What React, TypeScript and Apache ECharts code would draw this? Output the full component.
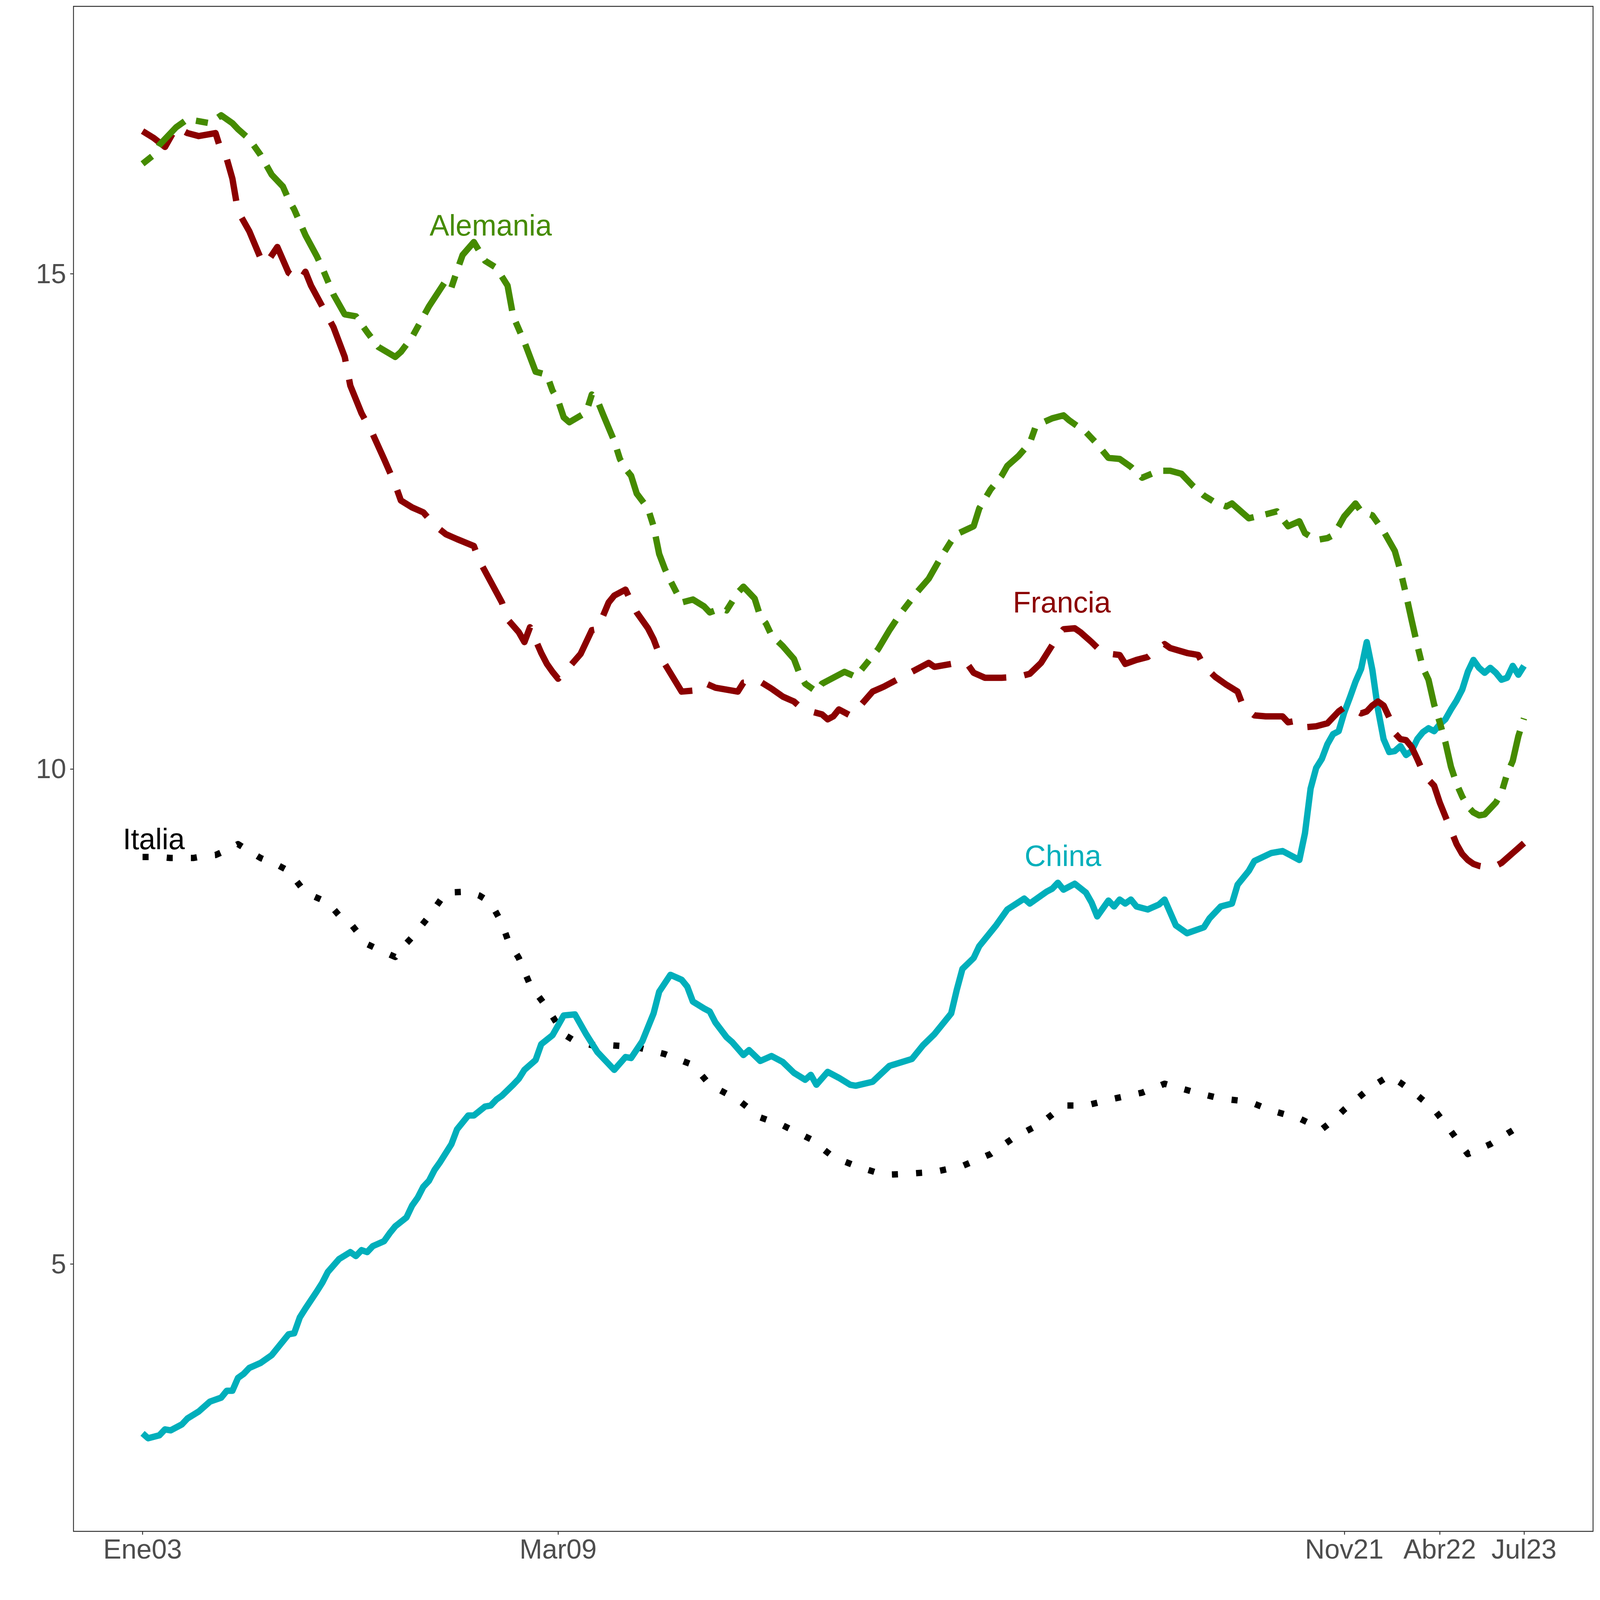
import React, { useEffect, useRef, useState } from "react";
import * as echarts from "echarts";

// x = month index from Jan 2003 (0) ; y = value
const xTickValues = [0, 74, 214, 231, 246];
const xTickLabels = ["Ene03", "Mar09", "Nov21", "Abr22", "Jul23"];
const yTickValues = [5, 10, 15];

const alemania = [
  [0,16.11],[2,16.20],[3,16.30],[6,16.48],[8,16.56],[10,16.54],[12,16.52],[14,16.60],[16,16.52],[17,16.46],[19,16.36],[21,16.20],[23,16.00],[25,15.88],[26,15.75],[27,15.65],[28,15.52],[29,15.39],[31,15.18],[32,15.06],[34,14.79],[36,14.59],[38,14.57],[40,14.41],[42,14.26],[45,14.16],[46,14.21],[48,14.36],[51,14.67],[54,14.93],[55,14.86],[56,15.03],[57,15.19],[59,15.32],[61,15.13],[63,15.06],[65,14.88],[66,14.57],[68,14.31],[70,14.01],[72,13.98],[73,13.82],[74,13.72],[75,13.55],[76,13.50],[79,13.60],[80,13.78],[81,13.72],[82,13.58],[84,13.31],[85,13.13],[86,13.03],[87,12.96],[88,12.78],[90,12.63],[91,12.45],[92,12.17],[93,12.02],[94,11.90],[95,11.79],[96,11.68],[98,11.71],[100,11.64],[101,11.58],[103,11.62],[104,11.60],[106,11.78],[107,11.84],[109,11.72],[110,11.54],[111,11.47],[112,11.35],[114,11.24],[116,11.11],[117,10.96],[118,10.86],[120,10.78],[121,10.86],[122,10.89],[125,10.98],[127,10.93],[129,11.07],[131,11.21],[133,11.40],[135,11.57],[138,11.79],[140,11.92],[142,12.12],[144,12.30],[145,12.37],[148,12.45],[149,12.63],[151,12.82],[153,12.96],[154,13.06],[156,13.16],[158,13.29],[159,13.45],[160,13.49],[162,13.54],[164,13.57],[165,13.52],[168,13.40],[170,13.28],[172,13.14],[174,13.13],[176,13.05],[178,12.94],[181,13.01],[183,13.01],[185,12.98],[187,12.86],[189,12.76],[191,12.69],[193,12.65],[194,12.68],[197,12.53],[200,12.57],[202,12.60],[204,12.45],[206,12.50],[207,12.38],[209,12.31],[211,12.33],[212,12.36],[213,12.45],[214,12.55],[216,12.68],[217,12.60],[219,12.56],[221,12.40],[223,12.20],[224,12.00],[225,11.76],[226,11.50],[227,11.25],[228,11.02],[229,10.90],[230,10.65],[231,10.47],[232,10.27],[233,10.02],[234,9.85],[235,9.72],[236,9.62],[237,9.56],[238,9.53],[239,9.54],[240,9.60],[241,9.66],[242,9.76],[243,9.95],[244,10.08],[245,10.33],[246,10.51]
];

const francia = [
  [0,16.44],[2,16.37],[4,16.28],[6,16.48],[8,16.42],[10,16.39],[13,16.42],[14,16.24],[15,16.16],[16,15.96],[17,15.63],[19,15.43],[21,15.16],[22,15.10],[24,15.27],[26,15.01],[28,14.93],[29,15.02],[30,14.88],[32,14.67],[34,14.46],[36,14.16],[37,13.87],[39,13.59],[41,13.38],[43,13.13],[45,12.87],[46,12.71],[48,12.64],[50,12.59],[52,12.46],[54,12.37],[56,12.32],[59,12.25],[60,12.10],[62,11.89],[64,11.68],[65,11.51],[67,11.38],[68,11.28],[69,11.43],[71,11.17],[72,11.06],[73,10.98],[74,10.91],[76,11.03],[78,11.16],[80,11.40],[81,11.41],[83,11.68],[84,11.75],[86,11.81],[87,11.69],[88,11.58],[90,11.42],[91,11.31],[92,11.16],[93,11.06],[96,10.78],[98,10.79],[100,10.87],[102,10.82],[106,10.78],[107,10.87],[110,10.88],[112,10.81],[114,10.73],[116,10.68],[117,10.63],[119,10.58],[121,10.55],[122,10.50],[123,10.53],[124,10.60],[126,10.54],[128,10.65],[130,10.78],[132,10.83],[134,10.89],[138,11.01],[140,11.07],[141,11.03],[144,11.06],[147,11.05],[148,10.97],[150,10.92],[153,10.92],[156,10.93],[158,10.96],[160,11.07],[163,11.34],[164,11.41],[166,11.42],[167,11.38],[169,11.28],[171,11.17],[174,11.15],[175,11.06],[177,11.10],[179,11.13],[181,11.22],[182,11.26],[183,11.22],[186,11.17],[188,11.15],[189,11.04],[191,10.93],[193,10.85],[195,10.78],[196,10.63],[198,10.54],[200,10.53],[203,10.53],[204,10.47],[206,10.49],[207,10.42],[209,10.43],[211,10.46],[213,10.58],[214,10.62],[215,10.62],[217,10.56],[218,10.58],[219,10.64],[220,10.68],[221,10.64],[222,10.52],[223,10.36],[224,10.30],[225,10.29],[226,10.22],[227,10.10],[228,9.97],[229,9.89],[230,9.83],[231,9.66],[232,9.52],[233,9.38],[234,9.24],[235,9.14],[236,9.08],[237,9.04],[238,9.02],[239,9.01],[240,9.01],[241,9.02],[242,9.05],[243,9.10],[244,9.15],[245,9.20],[246,9.25]
];

const italia = [
  [0,9.11],[3,9.11],[5,9.10],[7,9.10],[9,9.10],[11,9.12],[13,9.13],[15,9.18],[17,9.24],[19,9.17],[21,9.10],[24,9.03],[26,8.97],[29,8.75],[31,8.70],[33,8.65],[35,8.52],[37,8.44],[40,8.23],[43,8.15],[45,8.10],[46,8.18],[48,8.30],[51,8.51],[54,8.75],[58,8.76],[60,8.72],[62,8.65],[64,8.44],[65,8.28],[67,8.09],[69,7.82],[72,7.59],[75,7.32],[77,7.25],[80,7.21],[83,7.21],[88,7.19],[93,7.12],[98,7.01],[101,6.81],[106,6.66],[110,6.48],[114,6.40],[119,6.26],[123,6.08],[127,5.99],[132,5.90],[136,5.91],[141,5.93],[146,5.99],[151,6.11],[155,6.27],[160,6.42],[164,6.60],[168,6.60],[173,6.67],[178,6.73],[182,6.82],[187,6.74],[192,6.67],[197,6.64],[201,6.55],[206,6.47],[210,6.36],[212,6.45],[214,6.56],[218,6.75],[220,6.83],[222,6.90],[224,6.83],[226,6.75],[230,6.56],[233,6.34],[236,6.11],[240,6.21],[244,6.35],[246,6.41]
];

const china = [
  [0,3.29],[1,3.24],[3,3.27],[4,3.33],[5,3.32],[7,3.38],[8,3.44],[10,3.51],[12,3.61],[14,3.65],[15,3.72],[16,3.72],[17,3.85],[18,3.89],[19,3.95],[21,4.00],[23,4.08],[24,4.15],[26,4.29],[27,4.30],[28,4.46],[29,4.55],[31,4.72],[32,4.81],[33,4.92],[35,5.05],[37,5.12],[38,5.08],[39,5.14],[40,5.12],[41,5.18],[43,5.23],[44,5.31],[45,5.38],[47,5.47],[48,5.59],[49,5.67],[50,5.78],[51,5.84],[52,5.95],[53,6.03],[55,6.21],[56,6.36],[58,6.50],[59,6.50],[61,6.59],[62,6.60],[63,6.66],[64,6.70],[66,6.81],[67,6.87],[68,6.96],[70,7.06],[71,7.22],[73,7.31],[75,7.51],[77,7.52],[79,7.32],[81,7.14],[83,7.02],[84,6.96],[86,7.09],[87,7.08],[89,7.25],[91,7.53],[92,7.75],[94,7.92],[96,7.87],[97,7.80],[98,7.65],[100,7.58],[101,7.55],[102,7.44],[104,7.29],[105,7.24],[107,7.11],[108,7.16],[110,7.05],[112,7.10],[114,7.04],[116,6.93],[118,6.86],[119,6.91],[120,6.81],[122,6.94],[124,6.88],[126,6.81],[127,6.80],[130,6.84],[133,7.00],[137,7.07],[139,7.21],[141,7.32],[144,7.53],[145,7.77],[146,7.98],[148,8.09],[149,8.21],[152,8.42],[154,8.58],[157,8.69],[158,8.64],[161,8.76],[162,8.79],[163,8.85],[164,8.78],[166,8.84],[168,8.75],[169,8.65],[170,8.51],[172,8.67],[173,8.61],[174,8.68],[175,8.64],[176,8.68],[177,8.61],[179,8.58],[181,8.63],[182,8.68],[184,8.42],[186,8.34],[189,8.40],[190,8.49],[192,8.61],[194,8.64],[195,8.83],[197,8.97],[198,9.07],[201,9.15],[203,9.17],[206,9.08],[207,9.35],[208,9.80],[209,10.01],[210,10.10],[211,10.25],[212,10.35],[213,10.38],[214,10.57],[215,10.72],[216,10.88],[217,11.01],[218,11.28],[219,11.00],[220,10.60],[221,10.30],[222,10.17],[223,10.18],[224,10.23],[225,10.14],[226,10.18],[227,10.30],[228,10.37],[229,10.41],[230,10.38],[231,10.45],[232,10.50],[233,10.60],[234,10.69],[235,10.80],[236,10.98],[237,11.10],[238,11.02],[239,10.97],[240,11.02],[241,10.97],[242,10.90],[243,10.92],[244,11.04],[245,10.95],[246,11.04]
];

const labelNames = ["Alemania", "Francia", "Italia", "China"];
const labelX = [62, 163.7, 2, 163.9];
const labelY = [15.49, 11.68, 9.29, 9.12];

const FONT = '"Liberation Sans", Arial, Helvetica, sans-serif';
const GREEN = "#458B00";
const RED = "#8B0000";
const BLACK = "#000000";
const CYAN = "#00AFBB";
const labelColors = [GREEN, RED, BLACK, CYAN];

const REF = 5291;

export default function App() {
  const ref = useRef<HTMLDivElement>(null);
  const [size] = useState(() => {
    const w = window.innerWidth || REF;
    const h = window.innerHeight || REF;
    return Math.min(w, h);
  });
  useEffect(() => {
    document.body.style.margin = "0";
    document.body.style.overflow = "hidden";
    const s = size / REF;
    const chart = echarts.init(ref.current as HTMLDivElement, null, { renderer: "svg" });
    const W = 21 * s;
    const u = 20 * s;
    const mkLine = (name: string, data: number[][], color: string, dash: any, z: number) => ({
      type: "line",
      name,
      data,
      showSymbol: false,
      symbol: "none",
      silent: true,
      z,
      lineStyle: { color, width: W, type: dash, cap: "butt", join: "round" },
    });
    chart.setOption({
      animation: false,
      backgroundColor: "#ffffff",
      grid: {
        left: 243 * s,
        right: 23 * s,
        top: 21 * s,
        bottom: 227 * s,
        show: true,
        borderColor: "#333333",
        borderWidth: 3 * s,
        backgroundColor: "transparent",
      },
      xAxis: {
        type: "value",
        min: -12.3,
        max: 258.3,
        axisLine: { show: false, onZero: false },
        splitLine: { show: false },
        axisTick: {
          show: true,
          customValues: xTickValues,
          length: 11 * s,
          lineStyle: { color: "#333333", width: 3 * s },
        },
        axisLabel: {
          show: true,
          customValues: xTickValues,
          formatter: (v: number) => {
            const i = xTickValues.findIndex((t) => Math.abs(t - v) < 1e-6);
            return i >= 0 ? xTickLabels[i] : "";
          },
          color: "#4D4D4D",
          fontSize: 90 * s,
          fontFamily: FONT,
          margin: 14 * s,
        },
      },
      yAxis: {
        type: "value",
        min: 2.3,
        max: 17.7,
        axisLine: { show: false, onZero: false },
        splitLine: { show: false },
        axisTick: {
          show: true,
          customValues: yTickValues,
          length: 11 * s,
          lineStyle: { color: "#333333", width: 3 * s },
        },
        axisLabel: {
          show: true,
          customValues: yTickValues,
          color: "#4D4D4D",
          fontSize: 90 * s,
          fontFamily: FONT,
          margin: 24 * s,
        },
      },
      series: [
        mkLine("Italia", italia, BLACK, [u, 3 * u], 2),
        mkLine("China", china, CYAN, "solid", 3),
        mkLine("Francia", francia, RED, [7 * u, 3 * u], 4),
        mkLine("Alemania", alemania, GREEN, [2 * u, 2 * u, 6 * u, 2 * u], 5),
      ],
    });
    const texts = labelNames.map((n, i) => {
      const p = chart.convertToPixel({ gridIndex: 0 }, [labelX[i], labelY[i]]) as number[];
      return {
        type: "text",
        x: p[0],
        y: p[1],
        z: 100,
        silent: true,
        style: {
          text: n,
          fill: labelColors[i],
          fontSize: 97 * s,
          fontFamily: FONT,
          align: "center",
          verticalAlign: "middle",
        },
      };
    });
    chart.setOption({ graphic: texts });
    return () => chart.dispose();
  }, [size]);
  return <div ref={ref} style={{ width: size, height: size }} />;
}
